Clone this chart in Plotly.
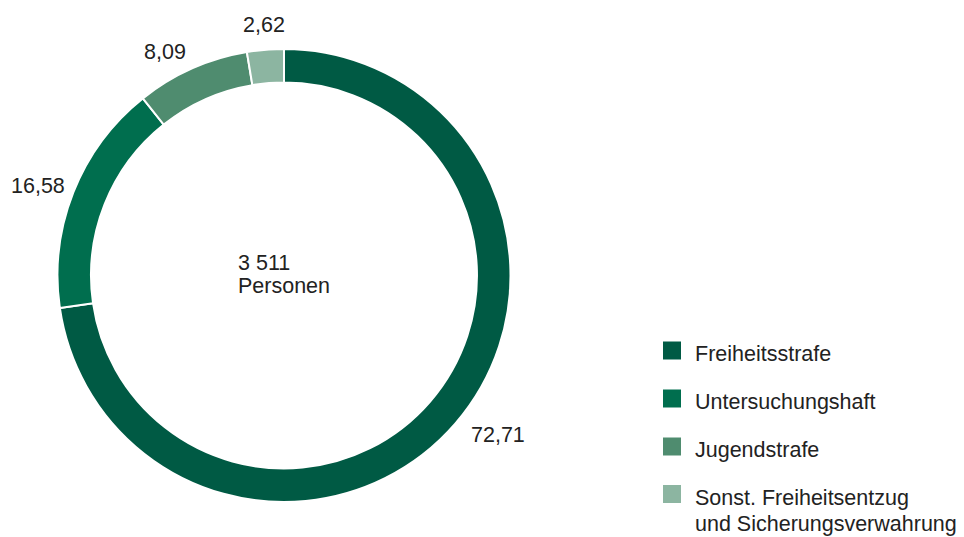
import plotly.graph_objects as go

categories = ["Freiheitsstrafe", "Untersuchungshaft", "Jugendstrafe",
              "Sonst. Freiheitsentzug<br>und Sicherungsverwahrung"]
values = [72.71, 16.58, 8.09, 2.62]
colors = ["#005a44", "#006e4e", "#4f8c6f", "#8cb5a1"]
total_persons = "3 511"
center_label = "Personen"

W, H = 964, 537
FONT = "Liberation Sans, Arial, sans-serif"
FS = 21.5
TXT = "#222222"

cx, cy, R = 284, 275.5, 226.5

fig = go.Figure(go.Pie(
    labels=categories,
    values=values,
    marker=dict(colors=colors, line=dict(color="white", width=2)),
    hole=0.852,
    sort=False,
    direction="clockwise",
    rotation=0,
    textinfo="none",
    showlegend=False,
    hoverinfo="label+value",
    domain=dict(x=[(cx - R) / W, (cx + R) / W], y=[1 - (cy + R) / H, 1 - (cy - R) / H]),
))


def px(x):
    return x / W


def py(y):
    return 1 - y / H


def ann(x, y, text, xanchor="center"):
    fig.add_annotation(x=px(x), y=py(y), xref="paper", yref="paper",
                       xanchor=xanchor, yanchor="middle", align="left",
                       text=text, showarrow=False,
                       font=dict(family=FONT, size=FS, color=TXT))


# value labels (pixel centres, layout only)
label_pos = [(497.5, 435), (37.5, 186), (164.5, 52), (263.5, 24.5)]
for v, (lx, ly) in zip(values, label_pos):
    ann(lx, ly, f"{v:.2f}".replace(".", ","))

# centre text
ann(236, 263, total_persons, xanchor="left")
ann(236, 285.5, center_label, xanchor="left")

# custom legend
leg_y = [354, 402, 450, 497.5]
for cat, col, ly in zip(categories, colors, leg_y):
    sq = ly - 3.5
    fig.add_shape(type="rect", xref="paper", yref="paper",
                  x0=px(663), x1=px(681), y0=py(sq - 9), y1=py(sq + 9),
                  fillcolor=col, line=dict(width=0))
    for i, line in enumerate(cat.split("<br>")):
        ann(693, ly + 26 * i, line, xanchor="left")

fig.update_layout(
    width=W, height=H,
    margin=dict(l=0, r=0, t=0, b=0),
    paper_bgcolor="white", plot_bgcolor="white",
    separators=", ",
    font=dict(family=FONT, size=FS, color=TXT),
)

fig.write_html("out.html")
